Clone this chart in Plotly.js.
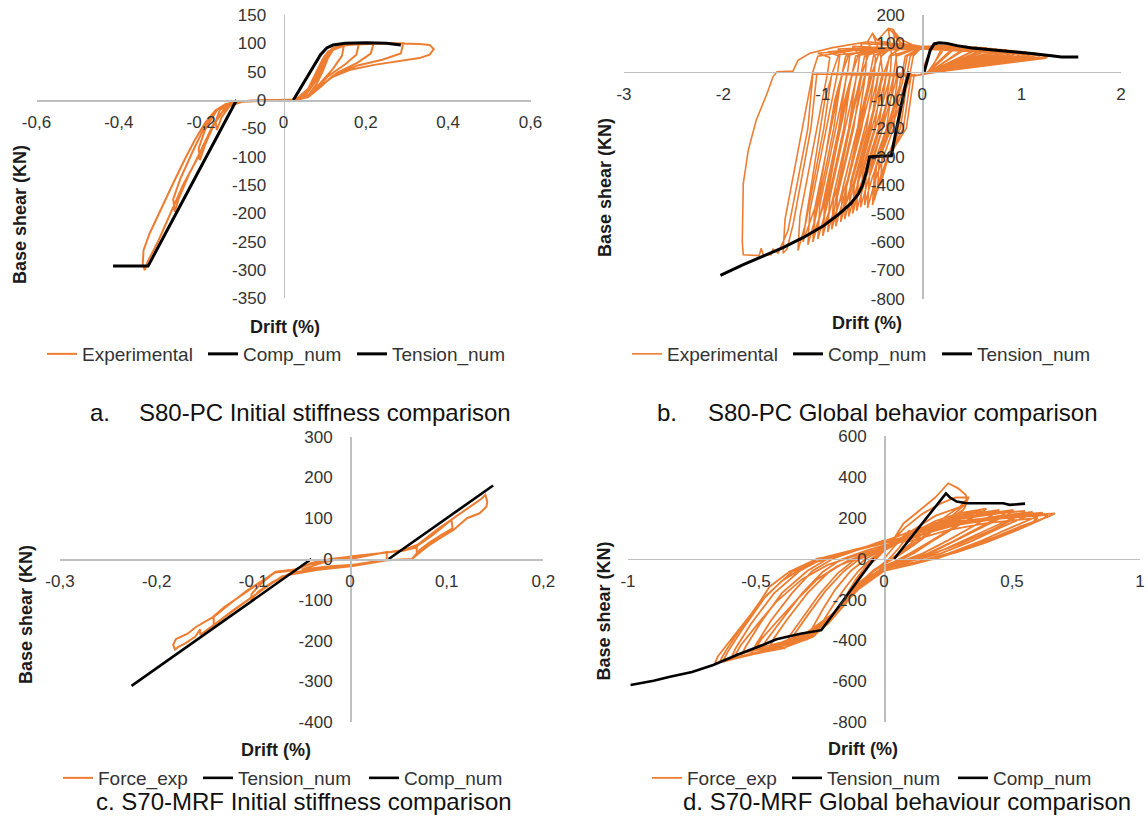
<!DOCTYPE html>
<html><head><meta charset="utf-8">
<script src="https://cdn.plot.ly/plotly-3.0.1.min.js"></script>
<style>html,body{margin:0;padding:0;background:#fff;}#chart{width:1148px;height:828px;}</style>
</head><body><div id="chart"></div>
<script>
// ---------------- DATA ----------------
// (a) S80-PC initial stiffness
const expA_x = [0,0.03,0.06,0.08,0.095,0.11,0.107,0.095,0.08,0.06,0.04,0,
 -0.05,-0.1,-0.13,-0.15,-0.162,-0.165,-0.155,-0.13,-0.08,0,
 0.03,0.06,0.08,0.1,0.12,0.147,0.142,0.12,0.09,0.06,0.03,0,
 -0.1,-0.14,-0.17,-0.19,-0.203,-0.206,-0.19,-0.16,-0.12,-0.05,0,
 0.03,0.06,0.09,0.11,0.13,0.183,0.177,0.15,0.11,0.08,0.05,0.02,
 -0.05,-0.1,-0.14,-0.17,-0.2,-0.23,-0.255,-0.264,-0.268,-0.25,-0.22,-0.19,-0.16,-0.12,-0.05,0.02,
 0.05,0.08,0.105,0.13,0.17,0.219,0.212,0.18,0.13,0.09,0.06,0.03,
 -0.05,-0.1,-0.13,-0.16,-0.18,-0.207,-0.244,-0.275,-0.305,-0.33,-0.337,-0.342,-0.34,-0.325,-0.3,-0.27,-0.24,-0.215,-0.19,-0.165,-0.14,-0.1,-0.05,0.02,
 0.05,0.08,0.1,0.12,0.15,0.22,0.291,0.285,0.24,0.18,0.12,0.09,0.06,0.03,
 0.05,0.08,0.1,0.12,0.15,0.25,0.33,0.355,0.365,0.355,0.33,0.28,0.22,0.16,0.12,0.1,0.08,0.06,0.04,0.02];
const expA_y = [0,1,20,50,72,87,72,50,28,8,1,0,
 -1,-3,-10,-30,-53,-38,-18,-5,-1,0,
 1,18,48,78,92,97,78,55,30,8,0,0,
 -2,-12,-45,-78,-106,-85,-52,-16,-3,0,0,
 1,17,57,85,95,99,80,63,43,20,4,0,
 0,-2,-12,-42,-88,-132,-175,-197,-175,-138,-90,-45,-16,-4,0,0,
 8,40,80,95,99,100,82,66,48,24,6,0,
 0,-2,-8,-30,-60,-100,-150,-200,-250,-285,-300,-290,-265,-235,-195,-150,-105,-70,-40,-18,-7,-2,0,0,
 6,38,70,90,97,100,100,82,71,61,43,23,5,0,
 5,35,65,88,97,100,99,97,90,80,74,68,62,53,41,30,18,7,2,0];
const compA_x = [-0.414,-0.329,-0.114];
const compA_y = [-293,-293,0];
const tensA_x = [0.024,0.06,0.09,0.105,0.12,0.15,0.2,0.25,0.285];
const tensA_y = [0,45,80,92,97,100,101,100,97];

// (b) S80-PC global behaviour
const expB_x = [0,0.05,0.1,
 0.25,0.22,0.05,-0.08,-0.11,-0.19,-0.37,-0.45,-0.43,-0.17,
 -0.15,-0.12,0,0.22,0.19,0.08,-0.06,-0.08,-0.16,-0.34,-0.42,-0.4,-0.14,
 -0.12,-0.09,0,0.35,0.32,0.05,-0.08,-0.16,-0.24,-0.42,-0.5,-0.48,-0.22,
 -0.2,-0.17,0,0.32,0.29,0.03,-0.08,-0.14,-0.22,-0.4,-0.48,-0.46,-0.2,
 -0.18,-0.15,0,0.45,0.42,0.05,-0.08,-0.21,-0.29,-0.47,-0.55,-0.53,-0.27,
 -0.25,-0.27,-0.29,-0.26,-0.2,0,0.42,0.39,0.08,-0.06,-0.24,-0.32,-0.5,-0.58,-0.56,-0.3,
 -0.28,-0.26,0,0.55,0.52,0.05,-0.08,-0.28,-0.36,-0.54,-0.62,-0.6,-0.34,
 -0.32,-0.31,-0.34,-0.3,-0.22,0,0.6,0.57,0.03,-0.08,-0.32,-0.4,-0.58,-0.66,-0.64,-0.38,
 -0.36,-0.33,0,0.65,0.62,0.05,-0.08,-0.36,-0.44,-0.62,-0.7,-0.68,-0.42,
 -0.4,-0.42,-0.5,-0.45,-0.3,0,0.7,0.67,0.08,-0.06,-0.4,-0.48,-0.66,-0.74,-0.72,-0.46,
 -0.44,-0.41,-0.3,0,0.75,0.72,0.05,-0.08,-0.44,-0.52,-0.7,-0.78,-0.76,-0.5,
 -0.48,-0.47,-0.55,-0.4,0,0.8,0.77,0.03,-0.08,-0.48,-0.56,-0.74,-0.82,-0.8,-0.54,
 -0.52,-0.49,-0.3,0,0.85,0.82,0.05,-0.08,-0.53,-0.61,-0.79,-0.87,-0.85,-0.59,
 -0.57,-0.56,-0.62,-0.4,0,0.9,0.87,0.08,-0.06,-0.57,-0.65,-0.83,-0.91,-0.89,-0.63,
 -0.61,-0.58,-0.3,0,0.95,0.92,0.05,-0.08,-0.61,-0.69,-0.87,-0.95,-0.93,-0.67,
 -0.65,-0.63,-0.7,-0.4,0,1.0,0.97,0.03,-0.08,-0.66,-0.74,-0.92,-1.0,-0.98,-0.72,
 -0.7,-0.67,-0.3,0,1.05,1.02,0.05,-0.08,-0.71,-0.79,-0.97,-1.05,-1.03,-0.77,
 -0.75,-0.73,-0.85,-0.5,0,1.1,1.07,0.08,-0.06,-0.76,-0.84,-1.02,-1.1,-1.08,-0.82,
 -0.8,-0.77,-0.5,0,1.15,1.12,0.05,-0.08,-0.81,-0.89,-1.07,-1.15,-1.13,-0.87,
 -0.85,-0.83,-0.95,-0.6,0,1.2,1.17,0.03,-0.08,-0.91,-0.99,-1.17,-1.25,-1.23,-0.97,
 -0.95,-0.93,-1.05,-0.7,0,1.25,1.22,0.05,-0.08,-1.06,-1.12,-1.3,-1.36,-1.4,-1.38,-1.12,
 -1.1,-1.05,-0.6,0,0.5,0.47,0.06,-0.08,-0.28,-0.38,-0.53,-0.68,-0.65,-0.46,-0.38,-0.32,
 -0.2,0,0.6,0.57,0.04,-0.08,-0.4,-0.5,-0.65,-0.8,-0.77,-0.58,-0.5,-0.44,
 -0.25,0,0.7,0.67,0.06,-0.08,-0.5,-0.6,-0.75,-0.9,-0.87,-0.68,-0.6,-0.54,
 -0.3,0,0.8,0.77,0.04,-0.08,-0.6,-0.7,-0.85,-1.0,-0.97,-0.78,-0.7,-0.64,
 -0.35,0,0.9,0.87,0.06,-0.08,-0.7,-0.8,-0.95,-1.1,-1.07,-0.88,-0.8,-0.74,
 -0.4,0,1.0,0.97,0.04,-0.08,-0.8,-0.9,-1.05,-1.2,-1.17,-0.98,-0.9,-0.84,-0.3,0,
 1.27,1.24,0.05,-0.08,-1.1,
 -1.15,-1.35,-1.45,-1.5,-1.52,-1.6,-1.62,-1.64,-1.75,-1.8,
 -1.81,-1.8,-1.75,-1.67,-1.56,-1.5,-1.46,-1.3,-1.25,-1.13,-0.9,-0.67,-0.55,-0.5,-0.45,-0.34,-0.3,-0.22,-0.1,0.05];
const expB_y = [0,50,88,
 95,81,-5,-15,-8,-200,-320,-420,-300,-40,
 0,55,88,93,79,0,-14,-8,-200,-300,-400,-280,-40,
 0,55,88,93,79,-5,-15,-8,-200,-370,-470,-350,-40,
 0,55,88,91,77,-8,-15,-8,-200,-350,-450,-330,-40,
 0,55,90,90,76,-5,-15,-8,-200,-380,-480,-360,-40,
 0,80,150,125,95,90,88,74,0,-14,-8,-200,-370,-470,-350,-40,
 0,55,90,87,73,-5,-15,-8,-200,-378,-478,-358,-40,
 0,60,153,140,100,88,85,71,-8,-15,-8,-200,-390,-490,-370,-40,
 0,55,88,84,70,-5,-15,-8,-200,-400,-500,-380,-40,
 0,60,135,110,100,88,82,68,0,-14,-8,-200,-410,-510,-390,-40,
 0,55,88,88,80,66,-5,-15,-8,-200,-420,-520,-400,-40,
 0,50,106,100,88,78,64,-8,-15,-8,-200,-430,-530,-410,-40,
 0,55,90,87,77,63,-5,-15,-8,-200,-445,-545,-425,-40,
 0,50,100,95,86,75,61,0,-14,-8,-200,-455,-555,-435,-40,
 0,55,88,86,73,59,-5,-15,-8,-200,-465,-565,-445,-40,
 0,55,90,85,85,71,57,-8,-15,-8,-200,-478,-578,-458,-40,
 0,55,85,85,69,56,-5,-15,-8,-200,-490,-590,-470,-40,
 0,55,80,85,84,67,55,0,-14,-8,-200,-500,-600,-480,-40,
 0,55,82,84,65,54,-5,-15,-8,-200,-510,-610,-490,-40,
 0,55,70,80,82,61,52,-8,-15,-8,-200,-530,-630,-510,-40,
 0,50,65,75,80,58,50,-5,-15,-8,-200,-540,-625,-640,-520,-40,
 0,55,80,85,80,66,-3,-15,-5,-150,-320,-470,-390,-100,0,60,
 85,86,78,64,-6,-15,-5,-150,-350,-500,-420,-100,0,60,
 88,86,76,62,-3,-15,-5,-150,-380,-530,-450,-100,0,60,
 86,85,74,60,-6,-15,-5,-150,-405,-555,-475,-100,0,60,
 85,84,72,59,-3,-15,-5,-150,-430,-580,-500,-100,0,60,
 84,83,70,57,-6,-15,-5,-150,-450,-600,-520,-100,0,60,80,82,
 56,48,-5,-15,-8,
 -200,-560,-640,-625,-645,-645,-622,-648,-645,-645,
 -600,-394,-277,-171,-76,-17,0,2,40,65,85,100,106,135,110,153,150,115,95,85];
const compB_x = [-2.03,-1.8,-1.6,-1.4,-1.2,-1.0,-0.85,-0.72,-0.64,-0.6,-0.56,-0.53,-0.45,-0.36,-0.31,-0.27,-0.22,-0.17,-0.13];
const compB_y = [-718,-680,-650,-620,-585,-545,-505,-465,-430,-400,-350,-300,-298,-296,-296,-220,-135,-50,0];
const tensB_x = [0.02,0.05,0.08,0.12,0.17,0.25,0.35,0.5,0.7,0.9,1.1,1.3,1.4,1.57];
const tensB_y = [0,40,75,98,102,100,92,84,78,72,64,56,52,52];

// (c) S70-MRF initial stiffness
const expC_x = [0,0.02,0.038,0.038,0.02,0,-0.02,-0.035,-0.05,-0.03,-0.01,0,0.038,0.055,0.066,0.069,0.069,0.066,0.064,0.038,0.003,-0.035,-0.06,-0.08,-0.095,-0.102,-0.102,-0.092,-0.077,-0.055,-0.04,-0.02,0,0.038,0.055,0.07,0.085,0.1,0.105,0.106,0.095,0.082,0.072,0.066,0.064,0.038,0.003,-0.035,-0.06,-0.08,-0.1,-0.12,-0.141,-0.141,-0.13,-0.11,-0.092,-0.077,-0.055,-0.04,-0.02,0,0.038,0.055,0.07,0.09,0.11,0.125,0.135,0.14,0.142,0.141,0.134,0.121,0.107,0.093,0.08,0.069,0.064,0.038,0.003,-0.035,-0.052,-0.07,-0.09,-0.11,-0.13,-0.155,-0.155,-0.16,-0.17,-0.178,-0.181,-0.183,-0.18,-0.168,-0.159,-0.14,-0.128,-0.107,-0.09,-0.077,-0.06,-0.04,-0.02,0];
const expC_y = [0,8,17,-2,-8,-15,-18,-22,-26,-10,0,6,16,20,27,30,14,4,0,-3,-17,-25,-33,-56,-80,-100,-86,-60,-31,-25,-10,0,5,16,22,33,58,85,96,75,60,40,22,5,0,-3,-17,-26,-34,-58,-90,-124,-162,-140,-118,-85,-55,-31,-25,-10,0,5,16,22,35,72,104,128,146,157,140,128,112,100,71,51,31,10,0,-3,-17,-27,-35,-42,-74,-108,-142,-186,-172,-190,-206,-216,-222,-210,-196,-183,-166,-140,-117,-78,-52,-33,-28,-12,-2,3];
const tensC_x = [0.04,0.148];
const tensC_y = [0,180];
const compC_x = [-0.226,-0.04];
const compC_y = [-311,0];

// (d) S70-MRF global behaviour
const expD_x = [0,0.04,0.1,0.092,0.06,0.02,-0.04,-0.09,-0.12,-0.105,-0.07,-0.03,0,
 0.04,0.076,0.141,0.2,0.251,0.29,0.32,0.322,0.297,0.25,0.18,0.1,0.03,-0.04,-0.1,-0.15,-0.172,-0.15,-0.11,-0.07,-0.03,0,
 0.1,0.2,0.3,0.32,0.31,0.25,0.15,0.08,0.03,-0.05,-0.12,-0.2,-0.276,-0.25,-0.2,-0.15,-0.1,-0.05,0,
 0.08,0.15,0.22,0.28,0.33,0.32,0.27,0.2,0.12,0.05,-0.02,-0.1,-0.18,-0.24,-0.3,-0.28,-0.24,-0.19,-0.13,-0.07,0,
 0.1,0.2,0.3,0.4,0.38,0.3,0.2,0.12,0.06,0,-0.08,-0.15,-0.22,-0.3,-0.38,-0.37,-0.32,-0.25,-0.18,-0.12,-0.05,0,
 0.1,0.2,0.3,0.38,0.36,0.28,0.18,0.1,0.04,-0.03,-0.1,-0.17,-0.25,-0.31,-0.36,-0.35,-0.3,-0.23,-0.16,-0.1,-0.03,0,
 0.1,0.25,0.35,0.45,0.43,0.35,0.25,0.15,0.05,0,-0.1,-0.18,-0.28,-0.36,-0.39,-0.42,-0.45,-0.43,-0.38,-0.3,-0.22,-0.15,-0.05,0,
 0.12,0.25,0.38,0.48,0.46,0.37,0.27,0.17,0.07,0,-0.1,-0.2,-0.3,-0.4,-0.48,-0.46,-0.4,-0.32,-0.24,-0.17,-0.07,0,
 0.1,0.22,0.35,0.45,0.52,0.5,0.42,0.3,0.18,0.08,0,-0.1,-0.2,-0.3,-0.4,-0.5,-0.48,-0.42,-0.34,-0.26,-0.18,-0.08,0,
 0.15,0.3,0.42,0.505,0.49,0.4,0.3,0.2,0.1,0,-0.1,-0.2,-0.3,-0.4,-0.52,-0.5,-0.44,-0.36,-0.28,-0.2,-0.1,0,
 0.15,0.3,0.45,0.55,0.53,0.43,0.32,0.21,0.1,0,-0.11,-0.21,-0.33,-0.44,-0.56,-0.54,-0.48,-0.4,-0.3,-0.22,-0.11,0,
 0.15,0.3,0.45,0.58,0.56,0.45,0.34,0.22,0.1,0,-0.12,-0.22,-0.35,-0.47,-0.6,-0.58,-0.52,-0.43,-0.33,-0.24,-0.12,0,
 0.1,0.25,0.4,0.52,0.6,0.58,0.48,0.36,0.24,0.12,0,-0.1,-0.2,-0.32,-0.45,-0.58,-0.56,-0.5,-0.42,-0.32,-0.22,-0.1,0,
 0.15,0.3,0.47,0.62,0.6,0.5,0.38,0.25,0.12,0,-0.12,-0.2,-0.32,-0.48,-0.63,-0.61,-0.55,-0.46,-0.36,-0.26,-0.13,0,
 0.12,0.28,0.44,0.58,0.64,0.62,0.52,0.4,0.28,0.15,0,-0.12,-0.23,-0.36,-0.5,-0.64,-0.62,-0.57,-0.49,-0.4,-0.3,-0.15,0,
 0.14,0.3,0.45,0.6,0.668,0.64,0.53,0.44,0.336,0.206,0.1,0,-0.12,-0.172,-0.276,-0.4,-0.5,-0.6,-0.66,-0.65,-0.6,-0.56,-0.5,-0.447,-0.37,-0.26,-0.185,-0.094,0];
const expD_y = [0,60,140,112,55,0,-60,-115,-150,-105,-45,0,40,
 100,173,239,300,370,345,312,290,255,215,150,70,0,-55,-125,-200,-251,-185,-100,-35,10,45,
 130,210,255,262,240,190,105,40,0,-70,-153,-290,-382,-330,-230,-140,-60,0,45,
 150,220,270,300,300,270,215,145,70,10,-40,-120,-240,-330,-390,-340,-250,-150,-60,0,50,
 120,185,225,245,225,170,95,30,-10,-40,-110,-220,-320,-395,-420,-380,-290,-170,-70,-10,30,60,
 110,175,215,235,212,160,85,25,-15,-50,-130,-240,-340,-390,-405,-370,-280,-160,-65,-5,35,55,
 120,190,220,240,220,160,90,25,-20,-45,-130,-260,-370,-410,-440,-425,-440,-390,-300,-170,-70,-15,35,60,
 125,185,215,232,212,150,85,25,-18,-48,-140,-280,-375,-425,-450,-400,-300,-170,-65,-5,40,65,
 95,150,185,200,210,190,140,75,20,-20,-55,-150,-270,-360,-410,-440,-395,-310,-200,-100,-35,15,40,
 140,200,225,239,220,165,100,40,-10,-45,-140,-290,-380,-430,-470,-420,-300,-170,-60,0,45,75,
 135,195,222,235,215,158,92,32,-12,-45,-150,-300,-390,-440,-480,-430,-310,-170,-60,0,42,78,
 130,180,210,230,210,150,85,25,-15,-45,-160,-310,-400,-450,-495,-440,-320,-170,-60,0,40,80,
 85,140,175,192,200,178,125,65,15,-25,-60,-150,-280,-380,-435,-470,-425,-330,-210,-100,-30,20,55,
 132,182,210,226,208,155,88,25,-18,-48,-158,-290,-390,-455,-505,-455,-340,-180,-65,-2,40,82,
 110,165,195,210,215,195,140,80,30,-10,-50,-165,-320,-410,-460,-500,-455,-360,-220,-110,-30,30,85,
 150,185,205,218,222,205,157,110,59,0,-25,-45,-153,-251,-382,-440,-465,-495,-513,-480,-400,-333,-240,-137,-64,0,16,49,90];
const tensD_x = [0.04,0.242,0.258,0.284,0.323,0.4,0.466,0.49,0.52,0.551];
const tensD_y = [0,320,300,280,272,272,272,264,268,270];
const compD_x = [-0.99,-0.9,-0.836,-0.75,-0.667,-0.575,-0.474,-0.42,-0.327,-0.245,-0.039];
const compD_y = [-619,-598,-578,-555,-521,-472,-423,-395,-368,-350,0];

// tick labels
const tickA_xv = [-0.6,-0.4,-0.2,0,0.2,0.4,0.6];
const tickA_xt = ['-0,6','-0,4','-0,2','0','0,2','0,4','0,6'];
const tickA_yv = [150,100,50,0,-50,-100,-150,-200,-250,-300,-350];
const tickA_yt = ['150','100','50','0','-50','-100','-150','-200','-250','-300','-350'];
const tickB_xv = [-3,-2,-1,0,1,2];
const tickB_xt = ['-3','-2','-1','0','1','2'];
const tickB_yv = [200,100,0,-100,-200,-300,-400,-500,-600,-700,-800];
const tickB_yt = ['200','100','0','-100','-200','-300','-400','-500','-600','-700','-800'];
const tickC_xv = [-0.3,-0.2,-0.1,0,0.1,0.2];
const tickC_xt = ['-0,3','-0,2','-0,1','0','0,1','0,2'];
const tickC_yv = [300,200,100,0,-100,-200,-300,-400];
const tickC_yt = ['300','200','100','0','-100','-200','-300','-400'];
const tickD_xv = [-1,-0.5,0,0.5,1];
const tickD_xt = ['-1','-0,5','0','0,5','1'];
const tickD_yv = [600,400,200,0,-200,-400,-600,-800];
const tickD_yt = ['600','400','200','0','-200','-400','-600','-800'];

// ---------------- LAYOUT ----------------
const W = 1148, H = 828;
const FONT = 'Liberation Sans, Arial, sans-serif';
const ORANGE = '#ED7D31';
const AXC = '#BFBFBF';
const TXT = '#333333';

const panels = [
 {sx:'', box:{l:36.5,r:530.5,t:15,b:298.4}, xr:[-0.6,0.6], yr:[-350,150], xt:[tickA_xv,tickA_xt], yt:[tickA_yv,tickA_yt]},
 {sx:'2', box:{l:624,r:1121,t:15,b:298.7}, xr:[-3,2], yr:[-800,200], xt:[tickB_xv,tickB_xt], yt:[tickB_yv,tickB_yt]},
 {sx:'3', box:{l:60,r:543.4,t:436.6,b:722.2}, xr:[-0.3,0.2], yr:[-400,300], xt:[tickC_xv,tickC_xt], yt:[tickC_yv,tickC_yt]},
 {sx:'4', box:{l:628,r:1140,t:436.3,b:722}, xr:[-1,1], yr:[-800,600], xt:[tickD_xv,tickD_xt], yt:[tickD_yv,tickD_yt]}
];

const layout = {
 width: W, height: H, margin:{l:0,r:0,t:0,b:0,autoexpand:false},
 paper_bgcolor:'#fff', plot_bgcolor:'rgba(0,0,0,0)',
 font:{family:FONT, color:TXT},
 hovermode:false,
 annotations:[]
};

panels.forEach(p=>{
  const b = p.box;
  const y0px = b.t + (p.yr[1]-0)/(p.yr[1]-p.yr[0])*(b.b-b.t);
  const x0px = b.l + (0-p.xr[0])/(p.xr[1]-p.xr[0])*(b.r-b.l);
  layout['xaxis'+p.sx] = {
    domain:[b.l/W, b.r/W], range:p.xr, anchor:'free', position:1-y0px/H,
    showline:true, linecolor:AXC, linewidth:1.5, zeroline:false, showgrid:false,
    ticks:'outside', ticklen:6, tickcolor:'rgba(0,0,0,0)',
    tickmode:'array', tickvals:p.xt[0], ticktext:p.xt[1],
    tickfont:{family:FONT, size:17, color:TXT}, fixedrange:true
  };
  layout['yaxis'+p.sx] = {
    domain:[1-b.b/H, 1-b.t/H], range:p.yr, anchor:'free', position:x0px/W,
    showline:true, linecolor:AXC, linewidth:1.5, zeroline:false, showgrid:false,
    ticks:'outside', ticklen:14, tickcolor:'rgba(0,0,0,0)',
    tickmode:'array', tickvals:p.yt[0], ticktext:p.yt[1],
    tickfont:{family:FONT, size:17, color:TXT}, fixedrange:true
  };
});

function ann(text, px, py, opts){
  return Object.assign({text:text, xref:'paper', yref:'paper', x:px/W, y:1-py/H,
    showarrow:false, xanchor:'center', yanchor:'middle',
    font:{family:FONT, size:18, color:'#1a1a1a'}}, opts||{});
}
const boldF = {family:FONT, size:18, color:'#1a1a1a'};
layout.annotations.push(ann('<b>Drift (%)</b>', 285, 327, {font:boldF}));
layout.annotations.push(ann('<b>Drift (%)</b>', 867, 323, {font:boldF}));
layout.annotations.push(ann('<b>Drift (%)</b>', 276, 750, {font:boldF}));
layout.annotations.push(ann('<b>Drift (%)</b>', 863, 749, {font:boldF}));
layout.annotations.push(ann('<b>Base shear (KN)</b>', 20, 215, {font:boldF, textangle:-90}));
layout.annotations.push(ann('<b>Base shear (KN)</b>', 605, 187, {font:boldF, textangle:-90}));
layout.annotations.push(ann('<b>Base shear (KN)</b>', 26, 615, {font:boldF, textangle:-90}));
layout.annotations.push(ann('<b>Base shear (KN)</b>', 603.5, 611, {font:boldF, textangle:-90}));
const capF = {family:FONT, size:24, color:'#111'};
layout.annotations.push(ann('a.', 88, 412, {font:capF, xanchor:'left'}));
layout.annotations.push(ann('S80-PC Initial stiffness comparison', 137, 412, {font:capF, xanchor:'left'}));
layout.annotations.push(ann('b.', 655, 412, {font:capF, xanchor:'left'}));
layout.annotations.push(ann('S80-PC Global behavior comparison', 706, 412, {font:capF, xanchor:'left'}));
layout.annotations.push(ann('c. S70-MRF Initial stiffness comparison', 94, 801, {font:capF, xanchor:'left'}));
layout.annotations.push(ann('d. S70-MRF Global behaviour comparison', 681, 801, {font:capF, xanchor:'left'}));

// one legend per entry, placed by the start of its text
const legendSpots = [
  [82,354],[243,354],[392,354],
  [667,354],[828,354],[977,354],
  [98,778],[238,778],[404,778],
  [687,778],[827,778],[993,778]
];
legendSpots.forEach((s,i)=>{
  layout[i===0?'legend':'legend'+(i+1)] = {
    x:(s[0]-40)/W, y:1-s[1]/H, xref:'paper', yref:'paper', xanchor:'left', yanchor:'middle',
    orientation:'h', bgcolor:'rgba(0,0,0,0)', borderwidth:0,
    font:{family:FONT, size:19, color:TXT}
  };
});

function tr(x, y, ax, name, color, width, k){
  return {x:x, y:y, xaxis:'x'+ax, yaxis:'y'+ax, type:'scatter', mode:'lines', name:name,
    line:{color:color, width:width}, legend:(k===0?'legend':'legend'+(k+1)), showlegend:true};
}
const data = [
  tr(expA_x, expA_y, '', 'Experimental', ORANGE, 2, 0),
  tr(compA_x, compA_y, '', 'Comp_num', '#000', 3, 1),
  tr(tensA_x, tensA_y, '', 'Tension_num', '#000', 3, 2),
  tr(expB_x, expB_y, '2', 'Experimental', ORANGE, 1.6, 3),
  tr(compB_x, compB_y, '2', 'Comp_num', '#000', 3, 4),
  tr(tensB_x, tensB_y, '2', 'Tension_num', '#000', 3, 5),
  tr(expC_x, expC_y, '3', 'Force_exp', ORANGE, 2, 6),
  tr(tensC_x, tensC_y, '3', 'Tension_num', '#000', 2.6, 7),
  tr(compC_x, compC_y, '3', 'Comp_num', '#000', 2.6, 8),
  tr(expD_x, expD_y, '4', 'Force_exp', ORANGE, 1.8, 9),
  tr(tensD_x, tensD_y, '4', 'Tension_num', '#000', 2.6, 10),
  tr(compD_x, compD_y, '4', 'Comp_num', '#000', 2.6, 11)
];

Plotly.newPlot('chart', data, layout, {displayModeBar:false, staticPlot:true});
</script></body></html>
